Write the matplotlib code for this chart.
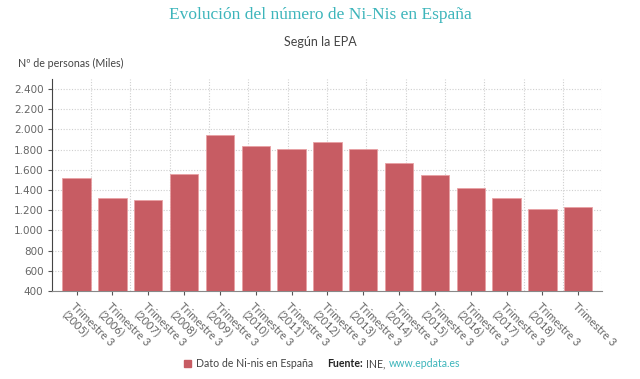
import numpy as np
import matplotlib.pyplot as plt
from matplotlib.ticker import FuncFormatter, MultipleLocator

# data (thousands of people, Q3 of each year)
years = ['2005', '2006', '2007', '2008', '2009', '2010', '2011', '2012',
         '2013', '2014', '2015', '2016', '2017', '2018', '2019']
values = [1515, 1324, 1298, 1555, 1941, 1832, 1806, 1878,
          1809, 1670, 1549, 1420, 1324, 1215, 1235]
labels = ['Trimestre 3\n(%s)' % y for y in years[:-1]] + ['Trimestre 3']

bar_color = '#c75c63'
teal = '#3db5bb'
grey = '#666666'
sans = 'Lato'

fig = plt.figure(figsize=(6.4, 3.79), dpi=100)
ax = fig.add_axes([0.081, 0.232, 0.86, 0.56])

x = np.arange(len(values))
ax.bar(x, values, width=0.79, color=bar_color, edgecolor='#e8a0a4',
       linewidth=0.6, zorder=3)

ax.set_xlim(-0.69, len(values) - 1 + 0.67)
ax.set_ylim(400, 2500)
ax.yaxis.set_major_locator(MultipleLocator(200))
ax.yaxis.set_major_formatter(FuncFormatter(lambda v, p: '{:,.0f}'.format(v).replace(',', '.')))
ax.grid(axis='y', color='#cfcfcf', linestyle=(0, (1, 1.5)), linewidth=0.8, zorder=0)

ax.set_xticks(x)
ax.set_xticklabels(labels, rotation=-45, ha='left', va='top',
                   rotation_mode='anchor', fontsize=8, color=grey,
                   family=sans, linespacing=1.05)
ax.tick_params(axis='x', length=3, color='#555555', pad=4)
ax.tick_params(axis='y', length=3, color='#555555', labelsize=7.5,
               labelcolor=grey, pad=3)

for s in ['top', 'right']:
    ax.spines[s].set_visible(False)
ax.spines['left'].set_color('#444444')
ax.spines['left'].set_linestyle((0, (1, 1)))
ax.spines['bottom'].set_color('#888888')

# vertical grid on its own scale
gx = ax.twiny()
gx.set_xlim(0, 14)
gx.set_xticks(np.arange(1, 15))
gx.grid(axis='x', color='#cfcfcf', linestyle=(0, (1, 1.5)), linewidth=0.8)
gx.tick_params(axis='x', length=0, labeltop=False)
for s in gx.spines.values():
    s.set_visible(False)
gx.set_zorder(ax.get_zorder() - 1)
ax.patch.set_visible(False)

fig.text(0.5, 0.96, 'Evolución del número de Ni-Nis en España',
         ha='center', va='center', fontsize=12.5, color=teal,
         family='Liberation Serif')
fig.text(0.5, 0.888, 'Según la EPA', ha='center', va='center',
         fontsize=9, color='#444444', family=sans)
fig.text(0.028, 0.832, 'Nº de personas (Miles)', ha='left', va='center',
         fontsize=7.7, color='#444444', family=sans)

# legend / source
fig.patches.append(plt.Rectangle((0.288, 0.032), 0.011, 0.019,
                                 transform=fig.transFigure, color=bar_color))
fig.text(0.306, 0.04, 'Dato de Ni-nis en España', ha='left', va='center',
         fontsize=7.6, color='#444444', family=sans)
t1 = fig.text(0.511, 0.04, 'Fuente:', ha='left', va='center',
              fontsize=7.6, color='#222222', family=sans, weight='bold')
fig.canvas.draw()
r = fig.transFigure.inverted()
bb = t1.get_window_extent()
x1 = r.transform((bb.x1, 0))[0]
t2 = fig.text(x1 + 0.005, 0.04, 'INE,', ha='left', va='center',
              fontsize=7.6, color='#444444', family=sans)
bb = t2.get_window_extent()
x2 = r.transform((bb.x1, 0))[0]
fig.text(x2 + 0.005, 0.04, 'www.epdata.es', ha='left', va='center',
         fontsize=7.6, color=teal, family=sans)

fig.savefig('out.png', dpi=100)
